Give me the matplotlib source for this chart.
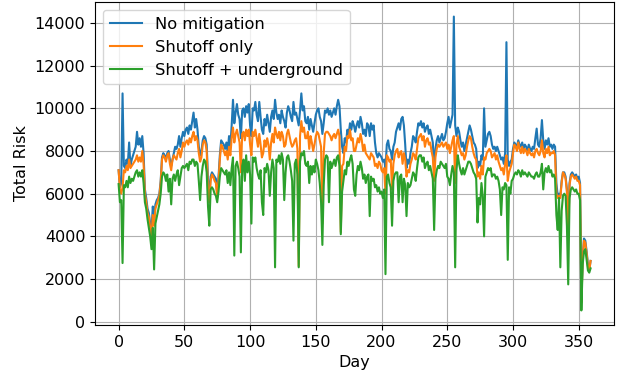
import matplotlib
matplotlib.use("Agg")
import matplotlib.pyplot as plt
import numpy as np

no_mitigation = [
    7100, 6300, 6500, 10700, 7300, 7200, 7600, 7400, 8400, 7300,
    7600, 7800, 8000, 8200, 8900, 8300, 8600, 8200, 8700, 7900,
    6200, 5800, 5300, 5100, 4600, 4300, 5400, 4800, 5500, 5700,
    5800, 6000, 6600, 7700, 7900, 7800, 7600, 7900, 8000, 7600,
    7300, 7600, 7900, 8200, 8100, 8300, 8700, 8200, 8600, 8900,
    8700, 9000, 9100, 8800, 9200, 9000, 9400, 9800, 9100, 9500,
    9000, 8200, 7800, 8000, 8500, 8700, 8600, 8300, 6700, 5900,
    6800, 7000, 6900, 6800, 6700, 6000, 6800, 7800, 8500, 8400,
    8300, 8100, 8400, 8000, 8700, 8200, 9200, 10400, 9300, 9800,
    10200, 9700, 9500, 8600, 9900, 10000, 9600, 10100, 9800, 10200,
    9200, 8700, 10000, 9900, 10300, 9700, 9400, 10300, 9600, 9000,
    8800, 9500, 9200, 9700, 9300, 8900, 9600, 9900, 9500, 10400,
    9800, 9500, 9700, 9300, 9900, 9600, 9400, 9100, 9800, 10100,
    9900, 9600, 9400, 10300, 9700, 9800, 9500, 9200, 9900, 10700,
    9900, 10100, 9400, 9300, 9600, 9000, 9500, 9200, 8900, 9300,
    9700, 9900, 10000, 9600, 9400, 8800, 9300, 9900, 9800, 10000,
    9700, 9900, 9600, 9800, 10000, 9700, 10100, 10400, 10100, 9000,
    8200, 7900, 8600, 8400, 9000, 8800, 9300, 9000, 9400, 9200,
    8900, 9200, 9400, 9100, 9600, 9300, 8800, 9000, 8700, 9300,
    9200, 8700, 9300, 9000, 9200, 8400, 7900, 7700, 7900, 7800,
    7700, 7500, 7600, 7200, 8300, 8500, 8100, 8000, 7600, 8200,
    8400, 8900, 9100, 9300, 9000, 9500, 9600, 9200, 8300, 7200,
    7600, 7400, 7900, 8200, 8700, 8600, 8400, 8900, 9300, 9200,
    9400, 9100, 9300, 8900, 9100, 9200, 8800, 9000, 8700, 8400,
    7200, 8100, 8500, 8700, 8400, 8600, 8800, 8500, 8600, 8900,
    9300, 9600, 9100, 9400, 9700, 14300, 9200, 8700, 9100, 8900,
    8500, 8200, 8400, 8000, 8300, 8600, 8900, 9200, 9000, 8700,
    8400, 8300, 8100, 7200, 7500, 7300, 7800, 7600, 10000, 8200,
    8500, 8800, 8900, 8700, 8300, 8100, 8200, 8000, 8200, 8000,
    7800, 7600, 7700, 7400, 7900, 13100, 7600, 7300, 7500, 7600,
    8100, 8400, 8300, 8200, 8500, 8300, 8200, 8400, 8100, 8300,
    8200, 8000, 8300, 8100, 8000, 8200, 8100, 8600, 9050, 8300,
    8200, 8600, 9450, 8500, 8100, 8500, 8300, 8600, 8200, 8300,
    8100, 8300, 8200, 6500, 5900, 6000, 5900, 6600, 7000, 7000,
    6800, 6200, 4200, 6500, 6900, 7000, 6900, 6800, 6900, 6700,
    6800, 6500, 1000, 3000, 3900, 3800, 3300, 2700, 2400, 2850,
]

shutoff_only = [
    7100, 6200, 6000, 6300, 7100, 7000, 7300, 7100, 7600, 7200,
    7300, 7400, 7500, 7600, 7800, 7500, 7700, 7500, 8000, 7400,
    6000, 5600, 5100, 4900, 4400, 3900, 5000, 4500, 5300, 5500,
    5700, 5900, 6500, 7600, 7800, 7700, 7500, 7800, 7900, 7400,
    7100, 7600, 7800, 7700, 7600, 7900, 8100, 7700, 8000, 8400,
    8200, 8400, 8500, 8300, 8600, 8400, 8700, 8900, 8500, 8700,
    8500, 7900, 7500, 7700, 8300, 8500, 8400, 8000, 6200, 5600,
    6600, 6900, 6800, 6600, 6500, 5800, 6600, 7600, 8300, 8200,
    8000, 7800, 8000, 7600, 8200, 7800, 8600, 9100, 8400, 8800,
    9000, 8700, 8400, 7000, 8800, 8900, 8500, 9000, 8700, 9000,
    8300, 7800, 8900, 8700, 9000, 8600, 8200, 8800, 8300, 7700,
    7900, 8500, 8200, 8600, 8300, 7600, 8400, 8800, 8400, 9100,
    8800, 8600, 8900, 8500, 8900, 8700, 8200, 8300, 8800, 9000,
    8700, 8400, 8200, 8300, 8500, 8600, 8100, 2600, 8700, 9400,
    8900, 9100, 8600, 8600, 8900, 8100, 8700, 8400, 8000, 8300,
    8700, 8900, 8800, 8500, 8200, 4600, 7900, 8800, 8900, 8900,
    8800, 8700, 8500, 8700, 8800, 8600, 8800, 9000, 8700, 4200,
    7300, 7400, 8200, 8000, 8700, 8600, 9000, 8500, 8600, 8000,
    8000, 8300, 8600, 8400, 8800, 8500, 8000, 8300, 7900, 7800,
    7700, 7600, 7900, 7800, 7700, 7300, 7400, 7200, 7500, 7400,
    7100, 7000, 7200, 6000, 7800, 7700, 7500, 7600, 6200, 7400,
    7800, 8000, 8100, 7700, 7900, 8000, 7400, 7900, 7600, 6800,
    7100, 7000, 7400, 7600, 7900, 7800, 7600, 8100, 8600, 8700,
    8800, 8500, 8700, 8200, 8500, 8600, 8300, 8400, 8000, 7700,
    6600, 7700, 8100, 8300, 8200, 8300, 8400, 8200, 8300, 8400,
    8100, 8300, 7900, 8200, 8500, 8700, 6500, 8300, 8700, 8200,
    8000, 7800, 7900, 7600, 7800, 8200, 8500, 8700, 8600, 8200,
    7900, 7700, 7600, 6800, 7000, 6700, 7300, 6900, 7700, 7600,
    7900, 8000, 8100, 8000, 7700, 7800, 7900, 7600, 7800, 7500,
    7300, 7100, 7200, 6900, 7400, 7800, 6600, 7000, 7200, 7400,
    7900, 8300, 8200, 8000, 8400, 8100, 7900, 8200, 7900, 8100,
    8000, 7800, 8100, 7900, 7800, 7900, 7700, 8000, 8100, 7900,
    7800, 8000, 8500, 7900, 7700, 8100, 7900, 8200, 7800, 7900,
    7900, 8000, 7800, 6000, 5800, 5900, 5800, 6500, 7000, 6900,
    6700, 6100, 4000, 6400, 6800, 6900, 6800, 6700, 6800, 6600,
    6600, 6400, 900, 2900, 3800, 3700, 3200, 2600, 2400, 2850,
]

shutoff_underground = [
    6450, 5600, 5700, 2750, 6400, 6300, 6600, 6300, 6800, 6500,
    6700, 6600, 6800, 7000, 7100, 6800, 7000, 6800, 7100, 6500,
    5600, 5300, 4800, 4400, 4000, 3400, 4400, 2450, 4600, 4900,
    5200, 5500, 6000, 6800, 7000, 6900, 6600, 6900, 6100, 6700,
    5500, 6700, 6900, 6600, 6900, 7100, 6400, 6800, 7200, 7300,
    7200, 7300, 7400, 7100, 7500, 7400, 7600, 7600, 7300, 7500,
    7400, 6600, 5700, 6800, 7300, 7600, 7500, 7000, 5400, 4500,
    6200, 6300, 6200, 6000, 5900, 5600, 6100, 6800, 7200, 7100,
    7000, 6900, 7100, 6500, 7000, 6400, 7200, 7700, 3100, 7300,
    7500, 7200, 6800, 3250, 7300, 7600, 6600, 7800, 7000, 7500,
    6900, 4600, 7700, 7500, 7700, 7200, 6900, 6700, 7100, 5600,
    5000, 7200, 7000, 7400, 7100, 5900, 7000, 7600, 7200, 2550,
    7600, 7500, 7800, 7400, 7900, 7600, 5700, 7000, 7700, 7800,
    7500, 7100, 6600, 3800, 7400, 7600, 6900, 2550, 7500, 7900,
    7800, 8000, 7400, 7300, 7500, 6500, 7300, 6900, 7300, 7000,
    7600, 7400, 7100, 6500, 5600, 3600, 6400, 7600, 7800, 7700,
    5600, 7500, 7200, 7400, 7600, 7300, 7700, 7800, 7300, 4100,
    6100, 6600, 7100, 6900, 7500, 7300, 7600, 7800, 7400, 6200,
    5900, 6900, 7300, 7100, 7500, 7200, 6700, 6900, 6500, 6800,
    6900, 4950, 6800, 6600, 6700, 6300, 6400, 6100, 6300, 6000,
    6100, 5800, 6200, 2230, 6800, 6900, 6500, 6300, 4500, 6600,
    6900, 7000, 7000, 5600, 6800, 6900, 5600, 6700, 6400, 4950,
    6500, 6300, 6400, 6700, 7000, 6900, 6600, 7200, 7700, 7800,
    7800, 7500, 7700, 7200, 7400, 7500, 7100, 7300, 7000, 6700,
    4300, 6700, 7100, 7300, 7200, 7500, 7400, 7300, 7200, 7400,
    6800, 6700, 6400, 6900, 7300, 7000, 2550, 7100, 7800, 7400,
    7100, 6900, 7200, 6900, 7100, 7300, 7500, 7500, 7400, 7200,
    7000, 6900, 6700, 4650, 5800, 5500, 6500, 5900, 4000, 6800,
    7000, 7200, 7100, 7200, 6800, 6900, 6900, 6700, 6800, 6600,
    6200, 5000, 6300, 6200, 6500, 6400, 2900, 6300, 6000, 6600,
    6700, 6900, 7000, 6900, 7100, 7000, 6800, 7100, 6900, 7000,
    6900, 6800, 7000, 6900, 6800, 6800, 6700, 6900, 7000, 6800,
    6800, 7000, 7400, 6200, 7000, 7200, 7000, 7300, 7000, 7100,
    6800, 6900, 6700, 5000, 4300, 5800, 2550, 5200, 5900, 6000,
    5900, 4500, 1750, 5800, 6200, 6300, 6200, 6100, 6200, 6000,
    6000, 5700, 530, 2700, 3300, 3400, 2900, 2400, 2300, 2500,
]

labels = ["No mitigation", "Shutoff only", "Shutoff + underground"]
days = np.arange(len(no_mitigation))

plt.rcParams['font.family'] = ['DejaVu Sans']
plt.rcParams['font.size'] = 11.5

fig = plt.figure(figsize=(6.21, 3.75), dpi=100)
ax = fig.add_axes([0.153, 0.133, 0.836, 0.862])
ax.plot(days, no_mitigation, label=labels[0], color='#1f77b4', lw=1.5)
ax.plot(days, shutoff_only, label=labels[1], color='#ff7f0e', lw=1.5)
ax.plot(days, shutoff_underground, label=labels[2], color='#2ca02c', lw=1.5)
ax.set_xlabel("Day")
ax.set_ylabel("Total Risk")
ax.grid(True)
ax.legend(loc='upper left', fontsize=11.7)
fig.savefig("out.png", dpi=100)
